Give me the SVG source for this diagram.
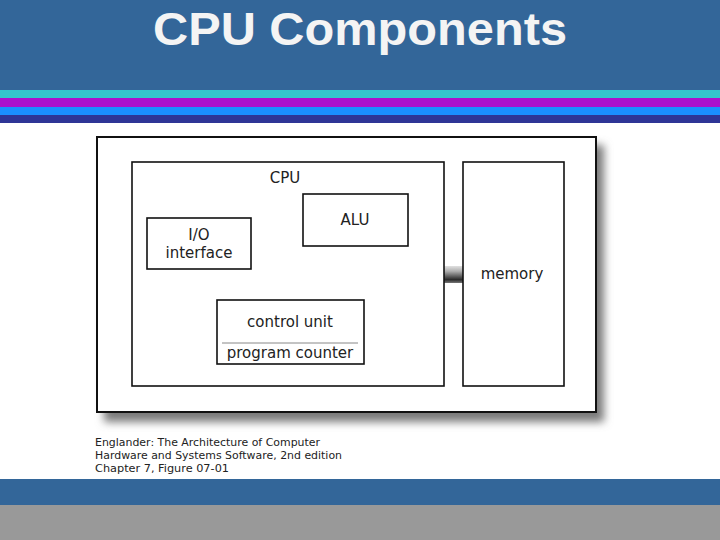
<svg xmlns="http://www.w3.org/2000/svg" width="720" height="540" viewBox="0 0 720 540">
<defs>
<style>
.box{fill:#fff;stroke:#111;stroke-width:1.6}
.lbl{font-family:"DejaVu Sans",sans-serif;font-size:15px;fill:#222;text-anchor:middle}
.cite{font-family:"DejaVu Sans",sans-serif;font-size:11px;fill:#222}
</style>
<filter id="blur" x="-10%" y="-10%" width="120%" height="120%"><feGaussianBlur stdDeviation="4"/></filter>
<linearGradient id="bus" x1="0" y1="0" x2="0" y2="1">
<stop offset="0" stop-color="#e0e0e0"/>
<stop offset="0.3" stop-color="#b0b0b0"/>
<stop offset="0.8" stop-color="#2a2a2a"/>
<stop offset="1" stop-color="#777"/>
</linearGradient>
</defs>
<rect x="0" y="0" width="720" height="540" fill="#fff"/>
<rect x="0" y="0" width="720" height="90" fill="#336699"/>
<rect x="0" y="90" width="720" height="8" fill="#33c6cc"/>
<rect x="0" y="98" width="720" height="9" fill="#aa11cc"/>
<rect x="0" y="107" width="720" height="8" fill="#1a8fff"/>
<rect x="0" y="115" width="720" height="8" fill="#2e3596"/>
<text x="360" y="45" text-anchor="middle" font-family="'Liberation Sans',Arial,sans-serif" font-weight="bold" font-size="47" fill="#f4f4f4" textLength="414" lengthAdjust="spacingAndGlyphs">CPU Components</text>
<rect x="0" y="479" width="720" height="26" fill="#336699"/>
<rect x="0" y="505" width="720" height="35" fill="#999999"/>

<g id="frame">
<rect x="104" y="145" width="500" height="277" fill="#7a7a7a" filter="url(#blur)"/>
<rect x="97" y="137" width="499" height="275" fill="#fff" stroke="#111" stroke-width="2"/>
</g>

<g id="connectors">
<rect x="444" y="266" width="19" height="17" fill="url(#bus)"/>
</g>

<g id="cpu">
<rect class="box" x="132" y="162" width="312" height="224"/>
<text class="lbl" x="285" y="183">CPU</text>
</g>
<g id="memory">
<rect class="box" x="463" y="162" width="101" height="224"/>
<text class="lbl" x="512" y="279">memory</text>
</g>
<g id="alu">
<rect class="box" x="303" y="194" width="105" height="52"/>
<text class="lbl" x="355" y="225">ALU</text>
</g>
<g id="io">
<rect class="box" x="147" y="218" width="104" height="51"/>
<text class="lbl" x="199" y="240">I/O</text>
<text class="lbl" x="199" y="258">interface</text>
</g>
<g id="control">
<rect class="box" x="217" y="300" width="147" height="64"/>
<line x1="222" y1="343" x2="358" y2="343" stroke="#888" stroke-width="1"/>
<text class="lbl" x="290" y="327">control unit</text>
<text class="lbl" x="290" y="358">program counter</text>
</g>

<g id="citation">
<text class="cite" x="95" y="446" textLength="225" lengthAdjust="spacingAndGlyphs">Englander: The Architecture of Computer</text>
<text class="cite" x="95" y="459" textLength="247" lengthAdjust="spacingAndGlyphs">Hardware and Systems Software, 2nd edition</text>
<text class="cite" x="95" y="472" textLength="134" lengthAdjust="spacingAndGlyphs">Chapter 7, Figure 07-01</text>
</g>
</svg>
